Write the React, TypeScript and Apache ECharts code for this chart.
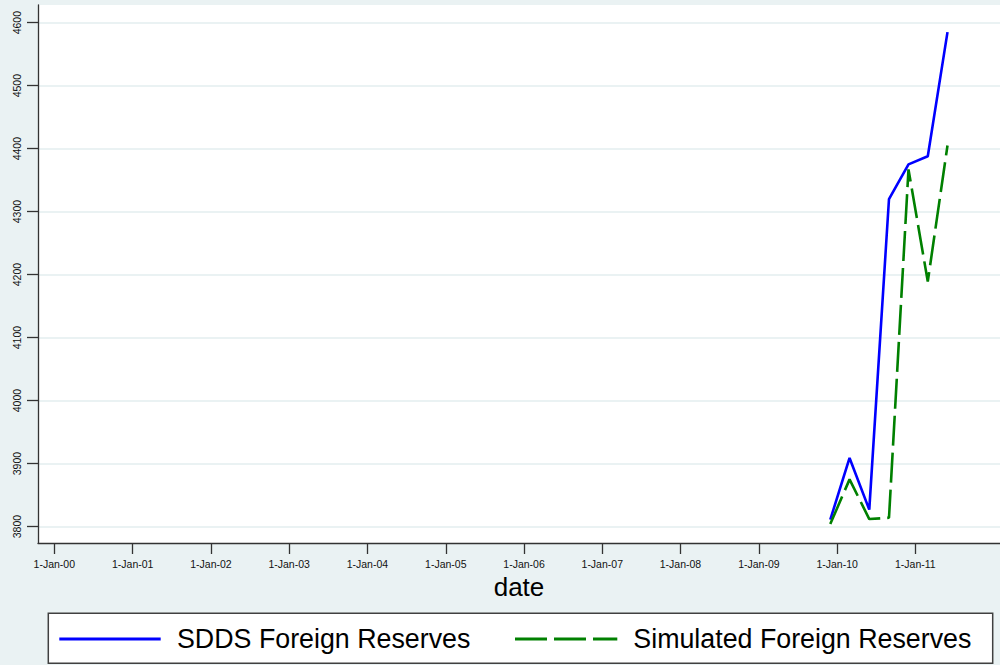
import React, { useEffect, useRef } from "react";
import * as echarts from "echarts";

const dates: string[] = [
  "2009-11-30",
  "2010-02-28",
  "2010-05-31",
  "2010-08-31",
  "2010-11-30",
  "2011-02-28",
  "2011-05-31",
];
const sddsReserves: number[] = [3811, 3909, 3827, 4320, 4375, 4388, 4585];
const simulatedReserves: number[] = [3804, 3875, 3812, 3814, 4367, 4189, 4405];
const yTicks: number[] = [3800, 3900, 4000, 4100, 4200, 4300, 4400, 4500, 4600];
const xTickYears: number[] = [2000, 2001, 2002, 2003, 2004, 2005, 2006, 2007, 2008, 2009, 2010, 2011];
const seriesNames: string[] = ["SDDS Foreign Reserves", "Simulated Foreign Reserves"];

const toMs = (s: string) => {
  const [y, m, d] = s.split("-").map(Number);
  return Date.UTC(y, m - 1, d);
};
const DAY = 86400000;
const xTickValues = xTickYears.map((y) => Date.UTC(y, 0, 1));
const xMin = Date.UTC(2000, 0, 1) - 76 * DAY;
const xMax = Date.UTC(2000, 0, 1) + 4413 * DAY;

const FONT = "'Liberation Sans', Arial, sans-serif";
const BG = "#EAF2F3";

export default function App() {
  const ref = useRef<HTMLDivElement>(null);
  useEffect(() => {
    if (!ref.current) return;
    const chart = echarts.init(ref.current, undefined, { renderer: "svg" });
    const blueData = dates.map((d, i) => [toMs(d), sddsReserves[i]]);
    const greenData = dates.map((d, i) => [toMs(d), simulatedReserves[i]]);
    chart.setOption({
      animation: false,
      backgroundColor: BG,
      grid: {
        left: 38,
        right: 0,
        top: 5,
        bottom: 122,
        show: true,
        backgroundColor: "#ffffff",
        borderWidth: 0,
      },
      xAxis: {
        type: "value",
        min: xMin,
        max: xMax,
        name: "date",
        nameLocation: "middle",
        nameGap: 24,
        nameTextStyle: { fontFamily: FONT, fontSize: 26, color: "#000" },
        axisLine: { show: true, onZero: false, lineStyle: { color: "#333", width: 1.3 } },
        axisTick: {
          show: true,
          length: 11,
          customValues: xTickValues,
          lineStyle: { color: "#333", width: 1.3 },
        },
        axisLabel: {
          customValues: xTickValues,
          margin: 15,
          fontFamily: FONT,
          fontSize: 10.5,
          color: "#111",
          formatter: (v: number) => {
            const yy = new Date(v).getUTCFullYear() % 100;
            return "1-Jan-" + (yy < 10 ? "0" + yy : String(yy));
          },
        },
        splitLine: { show: false },
      },
      yAxis: {
        type: "value",
        min: 3774,
        max: 4628,
        axisLine: { show: true, lineStyle: { color: "#333", width: 1.3 } },
        axisTick: {
          show: true,
          length: 11,
          customValues: yTicks,
          lineStyle: { color: "#333", width: 1.3 },
        },
        axisLabel: {
          customValues: yTicks,
          rotate: 90,
          margin: 16,
          fontFamily: FONT,
          fontSize: 10.5,
          color: "#111",
          formatter: (v: number) => String(v),
        },
        splitLine: { show: true, lineStyle: { color: BG, width: 2 } },
      },
      series: [
        {
          name: seriesNames[0],
          type: "line",
          data: blueData,
          showSymbol: false,
          symbol: "none",
          lineStyle: { color: "#0000ff", width: 2.6 },
          itemStyle: { color: "#0000ff" },
        },
        {
          name: seriesNames[1],
          type: "line",
          data: greenData,
          showSymbol: false,
          symbol: "none",
          lineStyle: { color: "#008000", width: 2.6, type: [30, 7] },
          itemStyle: { color: "#008000" },
        },
      ],
      graphic: [
        {
          type: "rect",
          shape: { x: 48.3, y: 613.3, width: 944.4, height: 50 },
          style: { fill: "#ffffff", stroke: "#404040", lineWidth: 1.5 },
        },
        {
          type: "line",
          shape: { x1: 59.3, y1: 639, x2: 160.7, y2: 639 },
          style: { stroke: "#0000ff", lineWidth: 3 },
        },
        {
          type: "text",
          x: 177,
          y: 638.5,
          style: {
            text: seriesNames[0],
            font: "26.8px " + FONT,
            fill: "#000",
            verticalAlign: "middle",
            align: "left",
          },
        },
        {
          type: "line",
          shape: { x1: 515, y1: 639, x2: 617.3, y2: 639 },
          style: { stroke: "#008000", lineWidth: 3, lineDash: [32, 7] },
        },
        {
          type: "text",
          x: 633.3,
          y: 638.5,
          style: {
            text: seriesNames[1],
            font: "26.8px " + FONT,
            fill: "#000",
            verticalAlign: "middle",
            align: "left",
          },
        },
      ],
    });
    return () => chart.dispose();
  }, []);
  return <div ref={ref} style={{ width: 1000, height: 665, position: "absolute", left: 0, top: 0 }} />;
}
